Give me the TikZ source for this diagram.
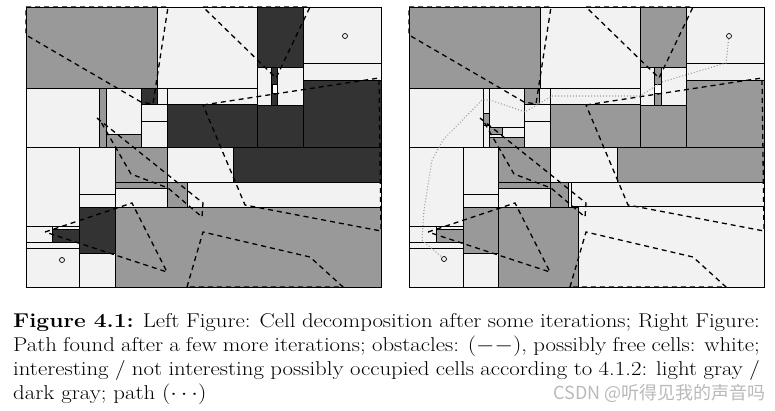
\documentclass[tikz,border=0pt]{standalone}
\usepackage{fontspec}
\newfontfamily\cjk{Noto Sans CJK SC}
\begin{document}
\begin{tikzpicture}[x=1pt,y=-1pt]
\definecolor{cl}{gray}{0.95}
\definecolor{cm}{gray}{0.6}
\definecolor{cd}{gray}{0.2}
\tikzset{
 lt/.style={fill=cl,draw=black,line width=0.8pt},
 md/.style={fill=cm,draw=black,line width=0.8pt},
 dk/.style={fill=cd,draw=black,line width=0.8pt},
 wt/.style={fill=white,draw=black,line width=0.6pt},
 frame/.style={draw=black,line width=1pt},
 obst/.style={draw=black,line width=1.3pt,dash pattern=on 5pt off 4pt},
 pathd/.style={draw=gray!75,line width=1.1pt,dash pattern=on 1pt off 2pt},
 goal/.style={circle,draw=black,fill=cl,line width=0.7pt,inner sep=0pt,minimum size=5pt},
}
\useasboundingbox (0,0) rectangle (775,410);
% ---------- left panel ----------
\foreach \a/\b/\c/\d in {157/7/257/88, 303/7/381/63, 303/63/381/80, 157/88/167/104, 167/88/257/104, 257/67/303/105, 26/88/99/147, 106/88/141/134, 141/104/167/121, 141/121/167/147, 26/147/79/226, 26/226/52/242, 52/226/79/229, 26/242/79/248, 26/248/79/287, 79/147/115/194, 79/194/115/207, 79/253/115/287, 115/188/167/207, 167/147/233/182, 187/182/381/207}
  \path[lt] (\a,\b) rectangle (\c,\d);
\foreach \a/\b/\c/\d in {26/7/157/88, 99/88/106/147, 106/134/141/147, 115/147/167/182, 115/182/167/188, 167/182/187/207, 115/207/381/287}
  \path[md] (\a,\b) rectangle (\c,\d);
\foreach \a/\b/\c/\d in {257/7/303/67, 303/80/381/147, 141/88/157/104, 167/104/257/147, 257/105/303/147, 271/67/277/105, 233/147/381/182, 52/229/79/242, 79/207/115/253}
  \path[dk] (\a,\b) rectangle (\c,\d);
\path[wt] (272,84) rectangle (277,93);
\draw[frame] (26,7) rectangle (381,287);
% ---------- right panel ----------
\foreach \a/\b/\c/\d in {540/7/640/88, 686/7/764/63, 686/63/764/80, 539/88/550/104, 550/88/640/104, 640/67/686/105, 409/88/483/147, 483/88/489/113, 483/125/489/147, 489/88/524/127, 489/127/524/137, 524/104/550/121, 524/121/550/147, 409/147/463/226, 409/226/436/242, 436/226/463/229, 409/242/463/248, 409/248/463/287, 463/147/498/194, 463/194/498/207, 463/253/498/287, 498/188/550/207, 550/147/617/182, 568/182/571/207, 571/182/764/206, 578/206/764/287}
  \path[lt] (\a,\b) rectangle (\c,\d);
\foreach \a/\b/\c/\d in {409/7/540/88, 640/7/686/67, 686/80/764/147, 524/88/539/104, 550/104/640/147, 640/105/686/147, 654/67/661/105, 483/113/489/125, 489/127/502/134, 489/137/524/147, 498/147/550/182, 498/182/550/188, 550/182/568/207, 617/147/764/182, 436/229/463/242, 463/207/498/253, 498/207/578/287}
  \path[md] (\a,\b) rectangle (\c,\d);
\path[wt] (654,84) rectangle (661,93);
\draw[frame] (409,7) rectangle (764,287);
% ---------- obstacles (same in both panels) ----------
\foreach \s in {0,383} {
 \begin{scope}[shift={(\s,0)}]
  \draw[obst] (26,7) -- (168,7) -- (153,104) -- (141,102) -- (26,35) -- cycle;
  \draw[obst] (203,7) -- (310,7) -- (276,78) -- cycle;
  \draw[obst] (203,105) -- (379,78) -- (381,231) -- (245,205) -- cycle;
  \draw[obst] (97,118) -- (203,203) -- (202,217) -- (168,188) -- (131,174) -- (116,148) -- (101,122) -- cycle;
  \draw[obst] (45,232) -- (132,203) -- (167,272) -- cycle;
  \draw[obst] (187,287) -- (203,232) -- (310,257) -- (343,287) -- cycle;
 \end{scope}
}
% ---------- goal / start markers ----------
\node[goal] (gL) at (345,36) {};
\node[goal] (sL) at (62,260) {};
\node[goal] (gR) at (729,36) {};
\node[goal] (sR) at (444,259) {};
% ---------- path ----------
\draw[pathd] (gR) -- (726,63) -- (662,82) -- (640,96) -- (552,96) -- (525,112) -- (490,100) -- (482,100) -- (443,140) -- (432,160) -- (424,210) -- (422,240) -- (sR);
% ---------- caption ----------
\node[anchor=north west, inner sep=0pt] (cap) at (13,313)
 {\scalebox{1.14}[1]{\parbox[t]{655pt}{\fontsize{20}{24}\selectfont
  \textbf{Figure 4.1:} Left Figure: Cell decomposition after some iterations; Right Figure:\linebreak
  Path found after a few more iterations; obstacles: $(--)$, possibly free cells: white;\linebreak
  interesting / not interesting possibly occupied cells according to 4.1.2: light gray /\linebreak
  dark gray; path $(\cdots)$}}};
\node[anchor=east, inner sep=0pt, text=gray!55, font=\cjk\fontsize{18}{20}\selectfont] (wm) at (766,393) {CSDN @听得见我的声音吗};
\end{tikzpicture}
\end{document}
